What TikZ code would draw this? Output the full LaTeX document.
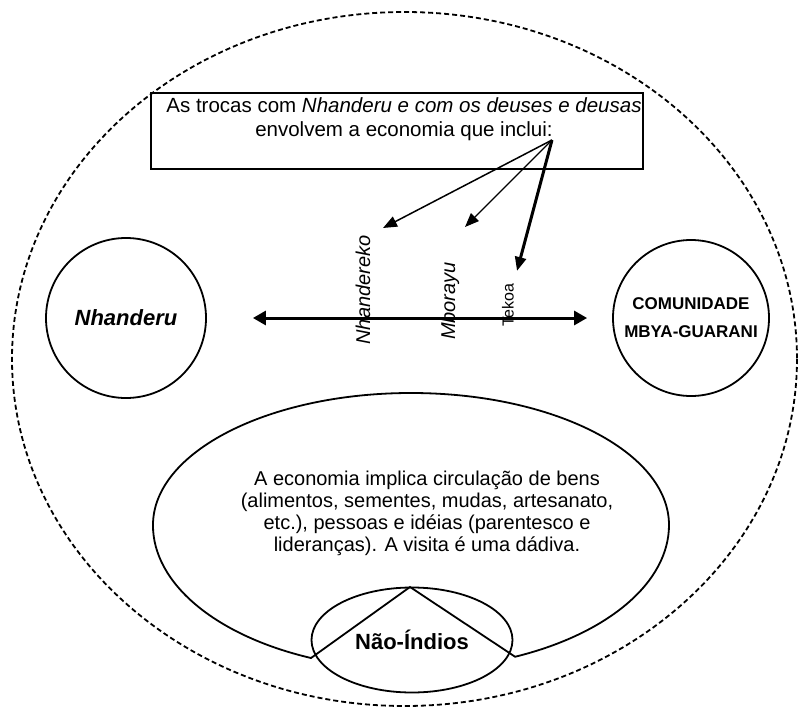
\documentclass[tikz,border=0pt]{standalone}
\usepackage{fontspec}
\setmainfont{Liberation Sans}
\usetikzlibrary{shapes.geometric,arrows.meta}

\begin{document}
\begin{tikzpicture}[
				x = 1pt, y = -1pt, % pixel units, y going down
				> = {Triangle[length=14pt,width=11pt]}, % arrow head style
				line width = 1.8pt, % line style
				ring/.style = {draw, circle, inner sep=0pt},
				outerline/.style = {draw, dash pattern=on 5pt off 3pt, line width=1.8pt},
				vlabel/.style = {rotate=90, inner sep=0pt, font=\fontsize{20}{20}\selectfont\itshape}
				]
				
				\useasboundingbox (0,0) rectangle (798,712);
				
				\draw[outerline] (404.5,359) ellipse [x radius=392.5, y radius=347];
				
				\node (caixa) [draw, minimum width=492pt, minimum height=76pt] at (397,131) {};
				\node (trocas) [align=center, inner sep=0pt, font=\fontsize{20.5}{23.5}\selectfont] at (404,119)
				{As trocas com \textit{Nhanderu e com os deuses e deusas}\\envolvem a economia que inclui:};
				\coordinate (inclui) at (552,140);
				
				\node (nhandereko) [vlabel] at (363,290) {Nhandereko};
				\node (mborayu) [vlabel] at (450,301) {Mborayu};
				\node (tekoa) [vlabel, font=\fontsize{16}{16}\selectfont\upshape] at (508,305) {Tekoa};
				\coordinate (pontaA) at (383,228);
				\coordinate (pontaB) at (465,227);
				\coordinate (pontaC) at (517,271);
				
				\path[->] (inclui) edge[line width=1.5pt] (pontaA);
				\path[->] (inclui) edge[line width=1.2pt] (pontaB);
				\path[->] (inclui) edge[line width=3pt] (pontaC);
				
				\node (nhanderu) [ring, minimum size=160pt, font=\fontsize{22}{22}\selectfont\bfseries\itshape] at (126,318) {Nhanderu};
				\node (comunidade) [ring, minimum size=156pt, align=center, font=\fontsize{17}{28}\selectfont\bfseries] at (691,318) {COMUNIDADE\\MBYA-GUARANI};
				
				\draw[{Triangle[length=13pt,width=14pt]}-{Triangle[length=13pt,width=14pt]}, line width=3pt,
				shorten <=46pt, shorten >=25pt] (nhanderu) -- (comunidade);
				
				% economia e nao-indios
				\coordinate (esq) at (153,525);
				\coordinate (topo) at (410,587);
				\coordinate (pe) at (311,658);
				\draw (esq) arc[start angle=180, end angle=360, x radius=258, y radius=132]
				arc[start angle=0, end angle=66.2, x radius=258, y radius=144] -- (topo) -- (pe)
				arc[start angle=112.8, end angle=180, x radius=258, y radius=144] -- cycle;
				
				\node (economia) [align=center, inner sep=0pt, font=\fontsize{20}{22}\selectfont] at (427,513)
				{A economia implica circulação de bens\\(alimentos, sementes, mudas, artesanato,\\etc.), pessoas e idéias (parentesco e\\lideranças). A visita é uma dádiva.};
				
				\node (naoindios) [draw, ellipse, minimum width=201pt, minimum height=105pt, inner sep=0pt,
				font=\fontsize{22}{22}\selectfont\bfseries] at (412,640) {Não-Índios};
				
			\end{tikzpicture}
\end{document}
